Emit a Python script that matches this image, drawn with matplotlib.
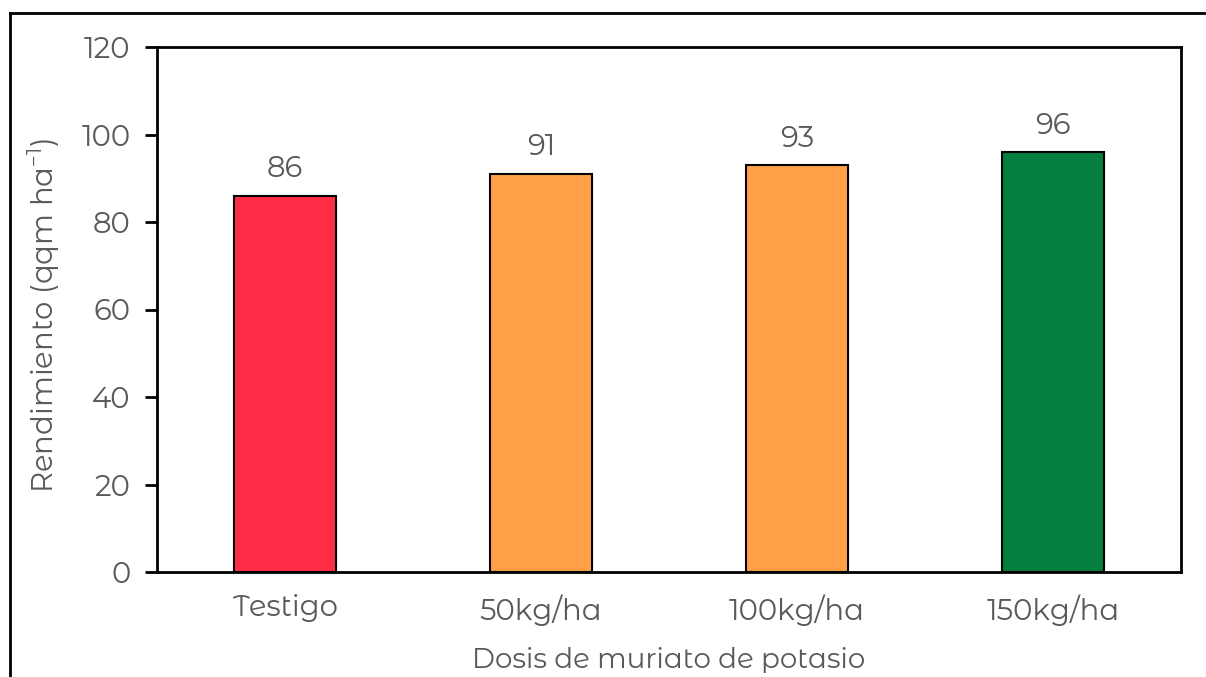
import matplotlib
matplotlib.use("Agg")
import matplotlib.pyplot as plt
from matplotlib.lines import Line2D

categories = ["Testigo", "50kg/ha", "100kg/ha", "150kg/ha"]
values = [86, 91, 93, 96]
colors = ["#FF2D46", "#FFA046", "#FFA046", "#047F40"]
yticks = [0, 20, 40, 60, 80, 100, 120]

plt.rcParams['font.family'] = ['Montserrat Alternates', 'DejaVu Sans']
plt.rcParams['mathtext.fontset'] = 'custom'
plt.rcParams['mathtext.rm'] = 'Montserrat Alternates'
text_color = "#595959"
fs = 21

W, H = 1206, 677
fig = plt.figure(figsize=(W / 100, H / 100), dpi=100)
ax = fig.add_axes([157 / W, 1 - 572 / H, (1181 - 157) / W, (572 - 47) / H])

x = list(range(len(categories)))
bars = ax.bar(x, values, width=0.4, color=colors, edgecolor="black", linewidth=1.5, zorder=3)
for xi, v in zip(x, values):
    ax.annotate(f"{v}", (xi, v), xytext=(0, 9), textcoords="offset points",
                ha="center", va="bottom", fontsize=fs, color=text_color)

ax.set_xlim(-0.5, 3.5)
ax.set_ylim(0, 120)
ax.set_yticks(yticks)
ax.set_yticklabels([str(t) for t in yticks], fontsize=fs, color=text_color)
ax.set_xticks(x)
ax.set_xticklabels(categories, fontsize=fs, color=text_color)
ax.tick_params(axis="x", length=0, pad=16)
ax.tick_params(axis="y", length=9, width=2, pad=10, color="black")
for s in ax.spines.values():
    s.set_linewidth(2)
    s.set_color("black")

ax.set_xlabel("Dosis de muriato de potasio", fontsize=20, color=text_color, labelpad=15)
ax.set_ylabel("Rendimiento (qqm ha$^{\\mathregular{-1}}$)", fontsize=fs, color=text_color, labelpad=14)
ax.yaxis.label.set_y(0.49)

# outer frame (partially cropped)
fig.add_artist(Line2D([10 / W, 10 / W], [0, 1 - 13 / H], transform=fig.transFigure, color="black", lw=2))
fig.add_artist(Line2D([10 / W, 1], [1 - 13 / H, 1 - 13 / H], transform=fig.transFigure, color="black", lw=2))

fig.savefig("out.png", dpi=100)
